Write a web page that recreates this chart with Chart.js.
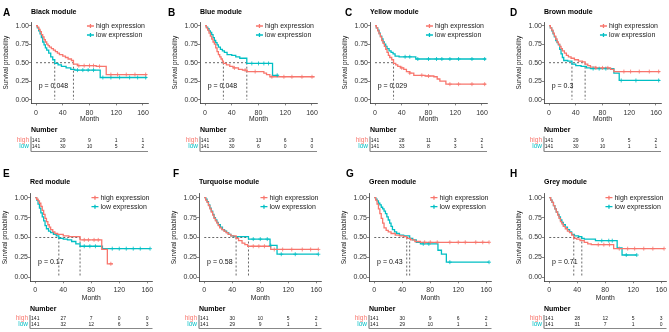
<!DOCTYPE html>
<html>
<head>
<meta charset="utf-8">
<script src="https://cdn.jsdelivr.net/npm/chart.js@4.4.0/dist/chart.umd.min.js"></script>
<style>
  html, body { margin: 0; padding: 0; background: #fff; }
  #wrap { position: relative; width: 669px; height: 332px; overflow: hidden; }
  #wrap canvas { position: absolute; }
</style>
</head>
<body>
<div id="wrap"></div>
<script>
// ---- data ----
const panelLetters = ['A', 'B', 'C', 'D', 'E', 'F', 'G', 'H'];
const moduleNames = ['Black module', 'Blue module', 'Yellow module', 'Brown module',
                     'Red module', 'Turquoise module', 'Green module', 'Grey module'];
const pValues = ['0.048', '0.048', '0.029', '0.3', '0.17', '0.58', '0.43', '0.71'];
const xTicks = [0, 40, 80, 120, 160];
const yTicks = [0, 0.25, 0.5, 0.75, 1];
const legendLabels = ['high expression', 'low expression'];

// median survival (months), null = not reached
const medianHigh = [56, 27.5, 27.7, 54, 64, 45.5, 46.4, 35];
const medianLow = [28, 62.5, null, 34.3, 33.7, 63.2, 50.6, 46.5];

// number at risk at 0/40/80/120/160 months
const riskHigh = [
  [141, 29, 9, 1, 1], [141, 29, 13, 6, 3], [141, 28, 11, 3, 2], [141, 29, 9, 5, 2],
  [141, 27, 7, 0, 0], [141, 30, 10, 5, 2], [141, 30, 9, 6, 2], [141, 28, 12, 5, 3]
];
const riskLow = [
  [141, 30, 10, 5, 2], [141, 30, 6, 0, 0], [141, 33, 8, 3, 1], [141, 30, 10, 1, 1],
  [141, 32, 12, 6, 3], [141, 29, 9, 1, 1], [141, 29, 10, 1, 1], [141, 31, 7, 1, 0]
];

// KM curves: [month, survival]
const blackHigh = [[0,1],[2,0.98],[4,0.95],[6,0.92],[8,0.88],[10,0.85],[12,0.81],[14,0.78],[16,0.75],[18,0.73],[20,0.71],[23,0.69],[26,0.67],[29,0.65],[32,0.63],[35,0.61],[40,0.59],[44,0.57],[48,0.55],[53,0.53],[56,0.48],[62,0.46],[90,0.45],[105,0.34],[166,0.34]];
const blackLow = [[0,1],[2,0.97],[4,0.93],[6,0.89],[8,0.84],[10,0.78],[12,0.74],[14,0.70],[16,0.67],[19,0.63],[22,0.58],[25,0.54],[28,0.49],[33,0.47],[38,0.45],[45,0.43],[52,0.41],[58,0.40],[96,0.30],[166,0.30]];
const blueHigh = [[0,1],[2,0.97],[4,0.94],[6,0.9],[8,0.86],[10,0.82],[12,0.78],[14,0.75],[16,0.7],[18,0.65],[20,0.61],[22,0.58],[24,0.55],[26,0.52],[27.5,0.49],[32,0.47],[37,0.45],[42,0.43],[50,0.41],[56,0.40],[63,0.38],[88,0.36],[92,0.34],[97,0.31],[164,0.31]];
const blueLow = [[0,1],[2,0.98],[4,0.96],[6,0.93],[8,0.91],[10,0.88],[12,0.84],[14,0.8],[16,0.77],[18,0.74],[20,0.71],[23,0.68],[26,0.66],[29,0.64],[33,0.61],[40,0.6],[46,0.58],[52,0.56],[62.5,0.49],[101,0.33],[110,0.33]];
const yellowHigh = [[0,1],[2,0.97],[4,0.93],[6,0.89],[8,0.85],[10,0.8],[12,0.76],[14,0.72],[16,0.68],[18,0.64],[20,0.6],[22,0.57],[25,0.54],[27.7,0.49],[31,0.47],[34,0.45],[38,0.43],[43,0.41],[47,0.38],[52,0.36],[58,0.33],[75,0.32],[88,0.31],[93,0.28],[97,0.25],[106,0.21],[166,0.21]];
const yellowLow = [[0,1],[2,0.97],[4,0.94],[6,0.9],[8,0.86],[10,0.82],[12,0.78],[14,0.75],[16,0.72],[18,0.69],[21,0.66],[24,0.64],[27,0.62],[30,0.59],[36,0.58],[61,0.55],[166,0.55]];
const brownHigh = [[0,1],[2,0.97],[4,0.94],[6,0.9],[8,0.86],[10,0.82],[12,0.78],[14,0.75],[16,0.72],[18,0.69],[20,0.66],[23,0.63],[26,0.6],[29,0.58],[33,0.56],[38,0.54],[44,0.52],[50,0.51],[54,0.48],[58,0.46],[62,0.44],[70,0.43],[92,0.41],[97,0.38],[166,0.38]];
const brownLow = [[0,1],[2,0.97],[4,0.93],[6,0.89],[8,0.85],[10,0.8],[12,0.77],[14,0.74],[16,0.68],[18,0.62],[20,0.57],[22,0.53],[28,0.52],[34.3,0.48],[40,0.46],[48,0.45],[56,0.43],[62,0.42],[97,0.36],[105,0.26],[166,0.26]];
const redHigh = [[0,1],[2,0.98],[4,0.96],[6,0.93],[8,0.89],[10,0.84],[12,0.79],[14,0.74],[16,0.7],[18,0.66],[20,0.63],[22,0.6],[25,0.57],[28,0.55],[32,0.54],[40,0.52],[48,0.51],[64,0.47],[95,0.35],[103,0.17],[111,0.17]];
const redLow = [[0,1],[2,0.97],[4,0.92],[6,0.87],[8,0.81],[10,0.76],[12,0.71],[14,0.65],[16,0.61],[19,0.58],[22,0.56],[26,0.54],[30,0.52],[33.7,0.49],[40,0.48],[46,0.47],[52,0.45],[58,0.42],[64,0.39],[96,0.36],[164,0.36]];
const turquoiseHigh = [[0,1],[2,0.97],[4,0.94],[6,0.9],[8,0.86],[10,0.82],[12,0.78],[14,0.74],[16,0.71],[18,0.68],[20,0.65],[22,0.62],[25,0.6],[28,0.58],[31,0.56],[34,0.54],[38,0.52],[45.5,0.49],[49,0.46],[54,0.43],[58,0.41],[62,0.39],[95,0.35],[163,0.35]];
const turquoiseLow = [[0,1],[2,0.98],[4,0.95],[6,0.91],[8,0.87],[10,0.83],[12,0.79],[14,0.75],[16,0.72],[18,0.69],[20,0.66],[23,0.63],[26,0.6],[29,0.58],[32,0.56],[35,0.54],[38,0.52],[42,0.51],[63.2,0.48],[94,0.4],[104,0.29],[163,0.29]];
const greenHigh = [[0,1],[2,0.97],[4,0.92],[6,0.86],[8,0.8],[10,0.74],[12,0.68],[14,0.62],[17,0.59],[20,0.57],[24,0.55],[30,0.53],[36,0.52],[42,0.51],[46.4,0.49],[52,0.47],[58,0.45],[66,0.44],[164,0.44]];
const greenLow = [[0,1],[2,0.98],[4,0.96],[6,0.93],[8,0.91],[10,0.88],[12,0.86],[14,0.83],[16,0.8],[18,0.76],[20,0.72],[22,0.68],[24,0.64],[26,0.6],[29,0.57],[32,0.55],[36,0.53],[42,0.52],[50.6,0.49],[55,0.47],[60,0.44],[66,0.42],[91,0.34],[96,0.29],[103,0.19],[164,0.19]];
const greyHigh = [[0,1],[2,0.97],[4,0.94],[6,0.9],[8,0.86],[10,0.82],[12,0.78],[14,0.74],[16,0.7],[18,0.67],[20,0.64],[23,0.61],[26,0.58],[29,0.56],[32,0.53],[35,0.49],[39,0.48],[44,0.46],[50,0.44],[55,0.42],[60,0.41],[92,0.36],[164,0.36]];
const greyLow = [[0,1],[2,0.97],[4,0.94],[6,0.9],[8,0.86],[10,0.82],[12,0.79],[14,0.76],[16,0.72],[18,0.69],[20,0.66],[23,0.63],[26,0.6],[29,0.57],[32,0.54],[36,0.52],[42,0.51],[46.5,0.49],[50,0.48],[66,0.46],[97,0.37],[104,0.28],[125,0.28]];

// censoring times (months)
const blackHighCens = [64, 72, 80, 86, 95, 112, 122, 135, 148, 164];
const blackLowCens = [62, 70, 78, 86, 100, 112, 125, 140, 152, 164];
const blueHighCens = [44, 60, 75, 100, 118, 130, 145, 160];
const blueLowCens = [70, 80, 88, 95, 108];
const yellowHighCens = [40, 52, 70, 80, 112, 125, 145, 164];
const yellowLowCens = [45, 52, 64, 80, 92, 100, 112, 125, 145, 164];
const brownHighCens = [70, 80, 88, 112, 122, 135, 150, 164];
const brownLowCens = [66, 75, 85, 108, 130, 164];
const redHighCens = [70, 76, 84, 90, 108];
const redLowCens = [70, 78, 86, 110, 120, 130, 140, 150, 164];
const turquoiseHighCens = [70, 78, 86, 100, 112, 125, 140, 152, 163];
const turquoiseLowCens = [70, 80, 90, 95, 110, 130, 163];
const greenHighCens = [72, 80, 90, 108, 120, 130, 145, 155, 164];
const greenLowCens = [70, 78, 108, 164];
const greyHighCens = [70, 78, 86, 100, 112, 122, 135, 148, 164];
const greyLowCens = [75, 85, 90, 110, 125];

const highCurves = [blackHigh, blueHigh, yellowHigh, brownHigh, redHigh, turquoiseHigh, greenHigh, greyHigh];
const lowCurves = [blackLow, blueLow, yellowLow, brownLow, redLow, turquoiseLow, greenLow, greyLow];
const highCens = [blackHighCens, blueHighCens, yellowHighCens, brownHighCens, redHighCens, turquoiseHighCens, greenHighCens, greyHighCens];
const lowCens = [blackLowCens, blueLowCens, yellowLowCens, brownLowCens, redLowCens, turquoiseLowCens, greenLowCens, greyLowCens];

// ---- layout ----
const RED = '#F8766D', CYAN = '#00BFC4';
const FONT = '"Liberation Sans", Arial, Helvetica, sans-serif';
const rowGeo = [
  { top: 0, h: 165, areaTop: 22, areaBottom: 103.4, areaW: 117, xH: 20, letterY: 13, titleY: 12,
    monthY: 119.5, numberY: 130.5, highY: 140.5, lowY: 146.5, lineY: 151.5 },
  { top: 165, h: 167, areaTop: 28.7, areaBottom: 116.3, areaW: 122.5, xH: 20, letterY: 9.5, titleY: 17.5,
    monthY: 133.3, numberY: 144, highY: 153.3, lowY: 159.3, lineY: 163.5 }
];
// absolute x of the y axis line and of the panel letter
const axisX = [31, 200, 370, 544, 30, 199, 369, 544];
const letterX = [3, 168, 345, 510, 3, 173, 346, 510];
const AXIS_W = 36;

function stepAt(curve, t) {
  let s = 1;
  curve.forEach(function (p) { if (p[0] <= t) s = p[1]; });
  return s;
}
function toXY(curve) {
  return curve.map(function (p) { return { x: p[0], y: p[1] }; });
}
function censXY(curve, times) {
  return times.map(function (t) { return { x: t, y: stepAt(curve, t) }; });
}

const wrap = document.getElementById('wrap');

function make_panel(i) {
  const geo = rowGeo[i < 4 ? 0 : 1];
  const W = 180, H = geo.h;
  const cLeft = axisX[i] - AXIS_W;
  const aRight = AXIS_W + geo.areaW;
  const cv = document.createElement('canvas');
  cv.width = W; cv.height = H;
  cv.style.left = cLeft + 'px';
  cv.style.top = geo.top + 'px';
  wrap.appendChild(cv);

  const tickFont = { family: FONT, size: 7 };

  const extras = {
    id: 'km' + i,
    beforeDatasetsDraw: function (c) {
      const ctx = c.ctx, xs = c.scales.x, ys = c.scales.y;
      const meds = [medianHigh[i], medianLow[i]].filter(function (v) { return v != null; });
      const y05 = ys.getPixelForValue(0.5), y0 = ys.getPixelForValue(0);
      ctx.save();
      ctx.strokeStyle = '#000';
      ctx.lineWidth = 0.6;
      ctx.setLineDash([2, 2]);
      ctx.beginPath();
      ctx.moveTo(xs.getPixelForValue(0), y05);
      ctx.lineTo(xs.getPixelForValue(Math.max.apply(null, meds)), y05);
      meds.forEach(function (m) {
        const px = xs.getPixelForValue(m);
        ctx.moveTo(px, y05);
        ctx.lineTo(px, y0);
      });
      ctx.stroke();
      ctx.restore();
    },
    afterDraw: function (c) {
      const ctx = c.ctx, xs = c.scales.x, ys = c.scales.y, area = c.chartArea;
      ctx.save();
      ctx.textBaseline = 'middle';
      // letter + title
      ctx.fillStyle = '#000';
      ctx.font = 'bold 10px ' + FONT;
      ctx.textAlign = 'left';
      ctx.fillText(panelLetters[i], letterX[i] - cLeft, geo.letterY);
      ctx.font = 'bold 7px ' + FONT;
      ctx.fillText(moduleNames[i], area.left, geo.titleY);
      // axis titles
      ctx.fillStyle = '#222';
      ctx.font = '6.8px ' + FONT;
      ctx.textAlign = 'center';
      ctx.fillText('Month', (area.left + area.right) / 2, geo.monthY);
      ctx.save();
      ctx.translate(area.left - 25, (area.top + area.bottom) / 2);
      ctx.rotate(-Math.PI / 2);
      ctx.font = '6.4px ' + FONT;
      ctx.fillText('Survival probability', 0, 0);
      ctx.restore();
      // p value
      ctx.textAlign = 'left';
      ctx.font = '7px ' + FONT;
      ctx.fillStyle = '#111';
      ctx.fillText('p = ' + pValues[i], xs.getPixelForValue(4), ys.getPixelForValue(0.19));
      // legend
      const cols = [RED, CYAN];
      ctx.font = '7px ' + FONT;
      const tw = ctx.measureText(legendLabels[0]).width;
      const tx = area.right - 3 - tw;
      [area.top + 4, area.top + 13].forEach(function (ly, k) {
        ctx.fillStyle = '#222';
        ctx.fillText(legendLabels[k], tx, ly);
        ctx.strokeStyle = cols[k];
        ctx.lineWidth = 1.3;
        ctx.beginPath();
        ctx.moveTo(tx - 9, ly); ctx.lineTo(tx - 2, ly);
        ctx.moveTo(tx - 5.5, ly - 2); ctx.lineTo(tx - 5.5, ly + 2);
        ctx.stroke();
      });
      // risk table
      ctx.fillStyle = '#000';
      ctx.font = 'bold 7px ' + FONT;
      ctx.fillText('Number', area.left, geo.numberY);
      ctx.textAlign = 'right';
      ctx.font = '6.5px ' + FONT;
      ctx.fillStyle = RED;
      ctx.fillText('high', area.left - 2, geo.highY);
      ctx.fillStyle = CYAN;
      ctx.fillText('low', area.left - 2, geo.lowY);
      ctx.textAlign = 'center';
      ctx.font = '5px ' + FONT;
      ctx.fillStyle = '#222';
      xTicks.forEach(function (t, k) {
        const px = xs.getPixelForValue(t);
        ctx.fillText(String(riskHigh[i][k]), px, geo.highY);
        ctx.fillText(String(riskLow[i][k]), px, geo.lowY);
      });
      ctx.strokeStyle = '#444';
      ctx.lineWidth = 0.8;
      ctx.beginPath();
      ctx.moveTo(area.left, geo.numberY + 6);
      ctx.lineTo(area.left, geo.lineY);
      ctx.stroke();
      ctx.strokeStyle = '#888';
      ctx.lineWidth = 1.2;
      ctx.beginPath();
      ctx.moveTo(area.left, geo.lineY);
      ctx.lineTo(area.right, geo.lineY);
      ctx.stroke();
      ctx.restore();
    }
  };

  new Chart(cv, {
    type: 'line',
    data: {
      datasets: [
        { data: censXY(highCurves[i], highCens[i]), showLine: false, pointStyle: 'cross',
          pointRadius: 2, pointBorderWidth: 0.8, borderColor: RED, pointBorderColor: RED },
        { data: censXY(lowCurves[i], lowCens[i]), showLine: false, pointStyle: 'cross',
          pointRadius: 2, pointBorderWidth: 0.8, borderColor: CYAN, pointBorderColor: CYAN },
        { data: toXY(highCurves[i]), stepped: true, borderColor: RED, borderWidth: 1.3, pointRadius: 0, fill: false },
        { data: toXY(lowCurves[i]), stepped: true, borderColor: CYAN, borderWidth: 1.3, pointRadius: 0, fill: false }
      ]
    },
    options: {
      responsive: false,
      animation: false,
      devicePixelRatio: 1,
      events: [],
      layout: { padding: { left: 0, top: geo.areaTop, right: W - aRight, bottom: H - geo.areaBottom - geo.xH } },
      plugins: { legend: { display: false }, title: { display: false }, tooltip: { enabled: false } },
      scales: {
        x: {
          type: 'linear', min: -7.5, max: 167.5,
          afterBuildTicks: function (s) { s.ticks = xTicks.map(function (v) { return { value: v }; }); },
          afterFit: function (s) { s.height = geo.xH; },
          ticks: { font: tickFont, color: '#333', padding: 3, maxRotation: 0, autoSkip: false },
          grid: { drawOnChartArea: false, drawTicks: true, tickLength: 2, color: '#333', lineWidth: 0.6 },
          border: { display: true, color: '#333', width: 0.8 }
        },
        y: {
          type: 'linear', min: -0.05, max: 1.05,
          afterBuildTicks: function (s) { s.ticks = yTicks.map(function (v) { return { value: v }; }); },
          afterFit: function (s) { s.width = AXIS_W; },
          ticks: { font: tickFont, color: '#333', padding: 0, callback: function (v) { return Number(v).toFixed(2); } },
          grid: { drawOnChartArea: false, drawTicks: true, tickLength: 2, color: '#333', lineWidth: 0.6 },
          border: { display: true, color: '#333', width: 0.8 }
        }
      }
    },
    plugins: [extras]
  });
}

for (let i = 0; i < 8; i++) make_panel(i);
</script>
</body>
</html>
